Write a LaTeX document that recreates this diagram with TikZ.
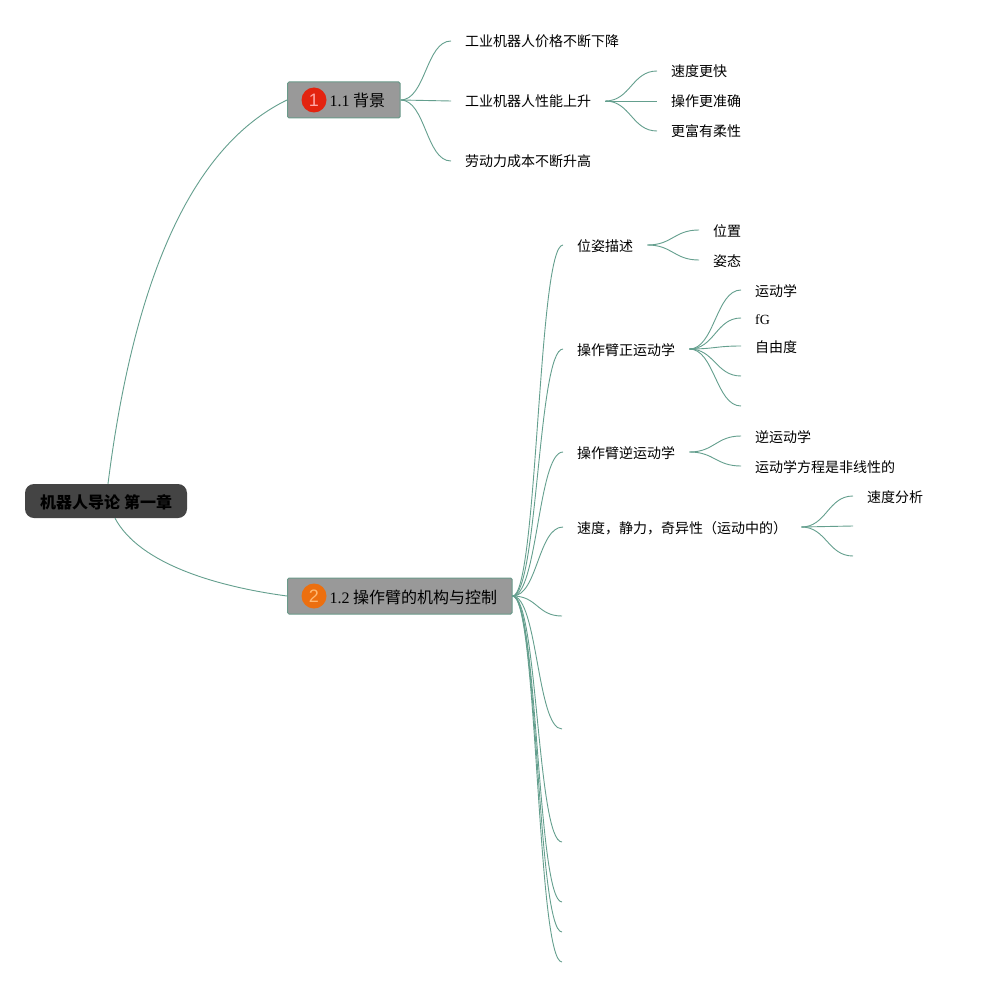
\documentclass[tikz,border=0pt]{standalone}
\usepackage{fontspec}
\setmainfont{Liberation Serif}
\newfontfamily\cjk{Noto Sans CJK SC}
\newfontfamily\badgefont{Liberation Sans}
\definecolor{linkc}{HTML}{649F8E}
\definecolor{boxfill}{HTML}{999999}
\definecolor{boxline}{HTML}{6A9A8A}
\definecolor{rootfill}{HTML}{444444}
\tikzset{
  leaf/.style={anchor=west,inner xsep=14pt,inner ysep=0pt,text=black,font=\fontsize{14}{16}\selectfont\cjk,text height=13pt,text depth=1pt},
  topic/.style={anchor=west,draw=boxline,line width=1pt,fill=boxfill,rounded corners=1.5pt,inner xsep=0pt,inner ysep=0pt,minimum height=36pt,text=black,font=\fontsize{16}{18}\selectfont\cjk,text height=15pt,text depth=1pt},
  badge/.style={circle,inner sep=0pt,minimum size=25pt,text=#1,font=\fontsize{18}{20}\selectfont\badgefont},
  rootbox/.style={anchor=center,fill=rootfill,rounded corners=9pt,inner xsep=0pt,inner ysep=0pt,minimum width=162pt,minimum height=34pt,text=black,font=\fontsize{16}{18}\selectfont\cjk\bfseries,text height=15pt,text depth=1pt},
  link/.style={draw=linkc,line width=0.9pt}
}
\newcommand{\lk}[3]{\draw[link] (#1) .. controls +(#3,0) and +(-#3,0) .. (#2);}
\begin{document}
\begin{tikzpicture}[x=1pt,y=-1pt]
\useasboundingbox[fill=white] (0,0) rectangle (983,987);
% root and main topics
\node[rootbox] (root) at (106,501) {机器人导论\hspace{4pt}第一章};
\node[topic] (t1) at (287,100) {\hspace*{42pt}{\rmfamily 1.1} 背景\hspace*{15pt}};
\node[topic] (t2) at (287,596) {\hspace*{42pt}{\rmfamily 1.2} 操作臂的机构与控制\hspace*{15pt}};
\node[badge={white!65!red}, fill={rgb,255:red,227;green,35;blue,15}] (b1) at (314,100) {1};
\node[badge={white!45!orange}, fill={rgb,255:red,236;green,111;blue,15}] (b2) at (314,596) {2};
\draw[link] ([xshift=2pt]root.north) .. controls (140,230) and (215,135) .. (t1.west);
\draw[link] ([xshift=9pt]root.south) .. controls (140,565) and (220,587) .. (t2.west);
% branch 1.1
\node[leaf] (a1) at (451,41) {工业机器人价格不断下降};
\node[leaf] (a2) at (451,101) {工业机器人性能上升};
\node[leaf] (a3) at (451,161) {劳动力成本不断升高};
\lk{t1.east}{a1.west}{25}
\lk{t1.east}{a2.west}{25}
\lk{t1.east}{a3.west}{25}
\node[leaf] (a21) at (657,71) {速度更快};
\node[leaf] (a22) at (657,101) {操作更准确};
\node[leaf] (a23) at (657,131) {更富有柔性};
\lk{a2.east}{a21.west}{25}
\lk{a2.east}{a22.west}{25}
\lk{a2.east}{a23.west}{25}
% branch 1.2
\node[leaf] (c1) at (563,245) {位姿描述};
\node[leaf] (c2) at (563,349) {操作臂正运动学};
\node[leaf] (c3) at (563,452) {操作臂逆运动学};
\node[leaf] (c4) at (563,527) {速度，静力，奇异性（运动中的）};
\coordinate (c5) at (562,616);
\coordinate (c6) at (562,729);
\coordinate (c7) at (562,842);
\coordinate (c8) at (562,902);
\coordinate (c9) at (562,932);
\coordinate (c10) at (562,962);
\foreach \n in {c1.west,c2.west,c3.west,c4.west,c5,c6,c7,c8,c9,c10}{\lk{t2.east}{\n}{25}}
\node[leaf] (d1) at (699,230) {位置};
\node[leaf] (d2) at (699,260) {姿态};
\lk{c1.east}{d1.west}{25}
\lk{c1.east}{d2.west}{25}
\node[leaf] (e1) at (741,290) {运动学};
\node[leaf] (e2) at (741,318) {\rmfamily fG};
\node[leaf] (e3) at (741,346) {自由度};
\coordinate (e4) at (741,376);
\coordinate (e5) at (741,406);
\foreach \n in {e1.west,e2.west,e3.west,e4,e5}{\lk{c2.east}{\n}{25}}
\node[leaf] (f1) at (741,436) {逆运动学};
\node[leaf] (f2) at (741,466) {运动学方程是非线性的};
\lk{c3.east}{f1.west}{25}
\lk{c3.east}{f2.west}{25}
\node[leaf] (g1) at (853,496) {速度分析};
\coordinate (g2) at (853,526);
\coordinate (g3) at (853,556);
\foreach \n in {g1.west,g2,g3}{\lk{c4.east}{\n}{25}}
\end{tikzpicture}
\end{document}
